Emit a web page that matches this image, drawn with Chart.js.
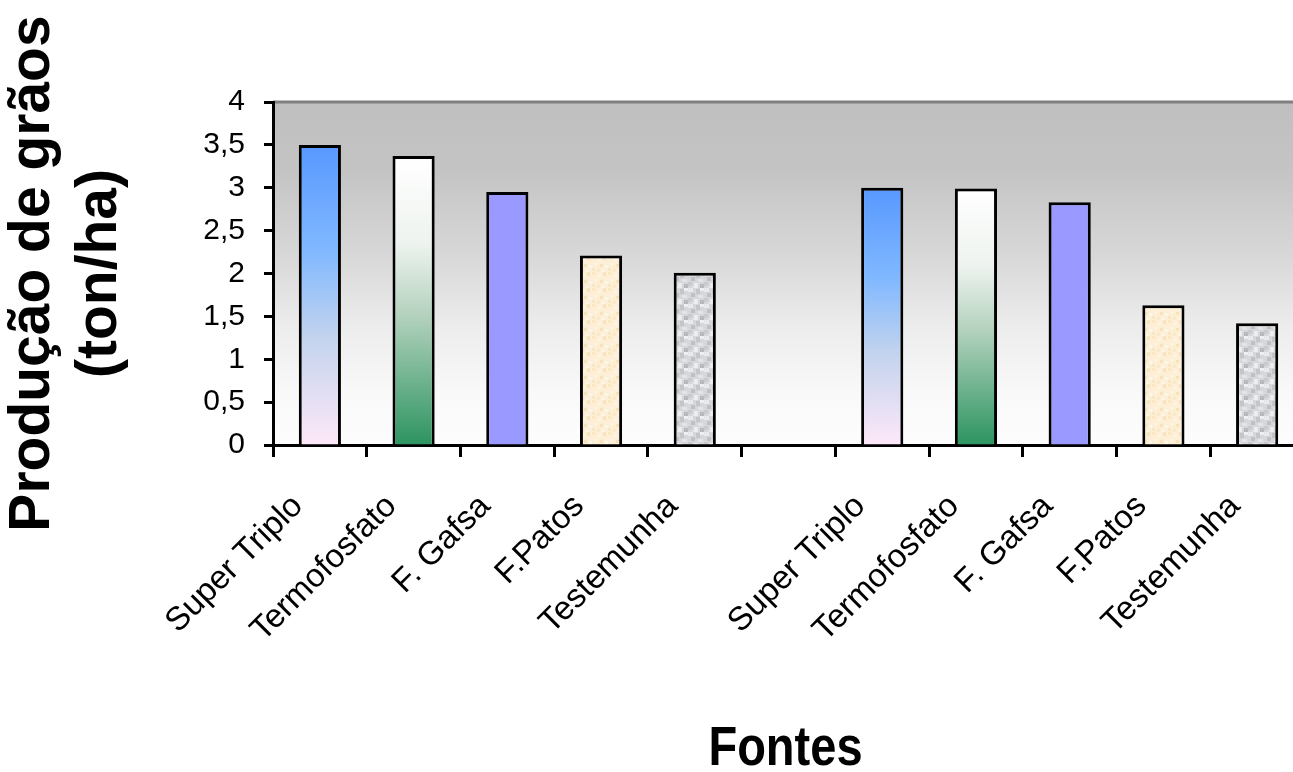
<!DOCTYPE html>
<html>
<head>
<meta charset="utf-8">
<script src="https://cdn.jsdelivr.net/npm/chart.js@4/dist/chart.umd.min.js"></script>
<style>
  html, body { margin: 0; padding: 0; background: #fff; overflow: hidden; }
</style>
</head>
<body>
<!-- a área de plotagem do original passa um pouco da borda direita -->
<canvas id="graficoFontes" width="1304" height="772"></canvas>
<script>
// dados
const fontes = ["Super Triplo", "Termofosfato", "F. Gafsa", "F.Patos", "Testemunha"];
const producao1 = [3.5, 3.37, 2.95, 2.21, 2.01];
const producao2 = [3.0, 2.99, 2.83, 1.63, 1.42];
const tituloX = "Fontes";
const tituloY = ["Produção de grãos", "(ton/ha)"];

// categoria vazia separa os dois grupos
const rotulos = [...fontes, "", ...fontes];
const valores = [...producao1, null, ...producao2];

// pequenas texturas (padrão fixo) para F.Patos e Testemunha
function criaTextura(base, manchas) {
  const c = document.createElement("canvas");
  c.width = 16;
  c.height = 16;
  const g = c.getContext("2d");
  g.fillStyle = base;
  g.fillRect(0, 0, 16, 16);
  manchas.forEach(([x, y, w, h, cor]) => {
    g.fillStyle = cor;
    g.fillRect(x, y, w, h);
  });
  return c;
}

const texPatos = criaTextura("#fcefd6", [
  [0, 0, 3, 3, "#fbe6c0"], [6, 2, 3, 3, "#fdf5e6"], [11, 0, 3, 4, "#fae4bc"],
  [2, 7, 3, 3, "#fdf3e0"], [8, 8, 3, 3, "#f9e2b8"], [13, 9, 3, 3, "#fdf6ea"],
  [0, 12, 3, 3, "#fae6c4"], [5, 13, 3, 3, "#fbe8c6"], [10, 13, 3, 3, "#fdf4e2"]
]);
const texTestemunha = criaTextura("#d6d7da", [
  [0, 0, 5, 4, "#e8e9ec"], [8, 1, 4, 5, "#c4c5c8"], [12, 0, 4, 3, "#eeeff1"],
  [3, 5, 4, 4, "#bfc0c3"], [10, 7, 5, 3, "#e4e5e8"], [0, 10, 4, 4, "#cacbce"],
  [6, 11, 4, 5, "#eceef0"], [12, 12, 4, 4, "#b8b9bc"], [4, 14, 2, 2, "#dfe0e3"]
]);

function preenchimento(context) {
  const chart = context.chart;
  const i = context.dataIndex % 6;
  const cores = ["#7fb2ff", "#b8d8c4", "#9999ff", "#fcefd6", "#d6d7da", "#fff"];
  if (!chart.chartArea || context.raw == null) return cores[i];
  const c = chart.ctx;
  const y = chart.scales.y;
  const topo = y.getPixelForValue(context.raw);
  const base = y.getPixelForValue(0);
  if (i === 0) {
    const g = c.createLinearGradient(0, topo, 0, base);
    g.addColorStop(0, "#5898ff");
    g.addColorStop(0.35, "#80b8ff");
    g.addColorStop(0.65, "#c4d4ee");
    g.addColorStop(1, "#fde8f8");
    return g;
  }
  if (i === 1) {
    const g = c.createLinearGradient(0, topo, 0, base);
    g.addColorStop(0, "#ffffff");
    g.addColorStop(0.3, "#eef3ef");
    g.addColorStop(0.55, "#b4d2be");
    g.addColorStop(1, "#2c9460");
    return g;
  }
  if (i === 2) return "#9999ff";
  if (i === 3) return c.createPattern(texPatos, "repeat");
  if (i === 4) return c.createPattern(texTestemunha, "repeat");
  return "#fff";
}

// fundo cinza degradê da área de plotagem
const fundoPlot = {
  id: "fundoPlot",
  beforeDraw(chart) {
    const { ctx, chartArea: a } = chart;
    const g = ctx.createLinearGradient(0, a.top, 0, a.bottom);
    g.addColorStop(0, "#bfbfbf");
    g.addColorStop(0.2, "#c4c4c4");
    g.addColorStop(0.45, "#d8d8d8");
    g.addColorStop(0.65, "#ececec");
    g.addColorStop(0.85, "#f9f9f9");
    g.addColorStop(1, "#fdfdfd");
    ctx.save();
    ctx.fillStyle = g;
    ctx.fillRect(a.left, a.top, a.right - a.left, a.bottom - a.top);
    ctx.strokeStyle = "#808080";
    ctx.lineWidth = 3;
    ctx.beginPath();
    ctx.moveTo(a.left, a.top);
    ctx.lineTo(a.right, a.top);
    ctx.stroke();
    ctx.restore();
  }
};

// título do eixo x, um pouco condensado como no original
const tituloEixoX = {
  id: "tituloEixoX",
  afterDraw(chart) {
    const { ctx, chartArea: a } = chart;
    ctx.save();
    ctx.translate((a.left + a.right) / 2 - 3, chart.height - 7);
    ctx.scale(0.84, 1);
    ctx.font = "bold 56px 'Liberation Sans', Arial, sans-serif";
    ctx.fillStyle = "#000";
    ctx.textAlign = "center";
    ctx.textBaseline = "alphabetic";
    ctx.fillText(tituloX, 0, 0);
    ctx.restore();
  }
};

const ctx = document.getElementById("graficoFontes");

new Chart(ctx, {
  type: "bar",
  data: {
    labels: rotulos,
    datasets: [
      {
        data: valores,
        backgroundColor: preenchimento,
        borderColor: "#000",
        borderWidth: 3,
        borderSkipped: "bottom",
        barPercentage: 0.45,
        categoryPercentage: 1,
      },
    ],
  },
  options: {
    responsive: false,
    animation: false,
    layout: {
      padding: { top: 102, right: 0, left: 0, bottom: 0 },
    },
    plugins: {
      legend: { display: false },
      tooltip: { enabled: false },
    },
    scales: {
      x: {
        grid: {
          offset: true,
          drawOnChartArea: false,
          tickLength: 12,
          tickWidth: 3,
          tickColor: "#000",
        },
        border: { color: "#000", width: 3 },
        ticks: {
          color: "#000",
          minRotation: 45,
          maxRotation: 45,
          autoSkip: false,
          padding: 30,
          labelOffset: -22,
          font: { family: "'Liberation Sans', Arial, sans-serif", size: 33 },
        },
        title: { display: false },
        afterFit(scale) {
          scale.height = 327;
          scale.paddingRight = 0;
        },
      },
      y: {
        min: 0,
        max: 4,
        grid: {
          drawOnChartArea: false,
          tickLength: 9,
          tickWidth: 3,
          tickColor: "#000",
        },
        border: { color: "#000", width: 3 },
        ticks: {
          stepSize: 0.5,
          color: "#000",
          padding: 19,
          font: { family: "'Liberation Sans', Arial, sans-serif", size: 30 },
          callback: (v) => String(v).replace(".", ","),
        },
        title: {
          display: true,
          text: tituloY,
          color: "#000",
          padding: { top: 0, bottom: 0 },
          font: {
            family: "'Liberation Sans', Arial, sans-serif",
            size: 57,
            weight: "bold",
            lineHeight: 1.17,
          },
        },
        afterFit(scale) {
          scale.width = 273;
        },
      },
    },
  },
  plugins: [fundoPlot, tituloEixoX],
});
</script>
</body>
</html>
